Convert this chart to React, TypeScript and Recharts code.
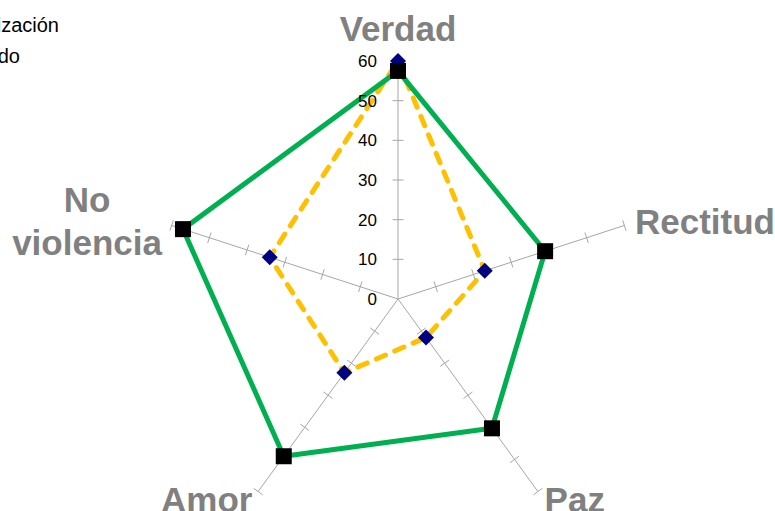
import React from 'react';
import {
  RadarChart,
  Radar,
  PolarAngleAxis,
  PolarRadiusAxis,
  Legend,
} from 'recharts';

// values
const axes = ['Verdad', 'Rectitud', 'Paz', 'Amor', 'No violencia'];
const realizacion = [60, 23, 12, 23, 34];
const esperado = [57.5, 39, 40.3, 49, 57];
const radiusTicks = [0, 10, 20, 30, 40, 50, 60];

const data = axes.map((axis, i) => ({
  axis,
  realizacion: realizacion[i],
  esperado: esperado[i],
}));

const FONT = '"Liberation Sans", Arial, sans-serif';
const SPOKE = '#a6a6a6';

// where each big label sits relative to the tick point
const labelPos: Record<string, { anchor: 'start' | 'middle' | 'end'; dx: number; dy: number }> = {
  Verdad: { anchor: 'middle', dx: 0, dy: -12 },
  Rectitud: { anchor: 'start', dx: 3, dy: 11 },
  Paz: { anchor: 'start', dx: 2, dy: 14 },
  Amor: { anchor: 'end', dx: -1, dy: 14 },
  'No violencia': { anchor: 'middle', dx: -77, dy: -11 },
};

// eslint-disable-next-line @typescript-eslint/no-explicit-any
const AngleTick = (props: any) => {
  const { x, y, payload } = props;
  const name: string = payload.value;
  const pos = labelPos[name];
  const common = {
    textAnchor: pos.anchor,
    fill: '#808080',
    fontFamily: FONT,
    fontWeight: 700,
    fontSize: 35,
  };
  if (name === 'No violencia') {
    return (
      <g>
        <text x={x + pos.dx} y={y + pos.dy} {...common}>No</text>
        <text x={x + pos.dx} y={y + pos.dy + 43} {...common}>violencia</text>
      </g>
    );
  }
  return (
    <text x={x + pos.dx} y={y + pos.dy} {...common}>
      {name}
    </text>
  );
};

// small cross tick on a spoke, optional number on the vertical one
const makeSpokeTick = (angle: number, withLabel: boolean) => {
  // eslint-disable-next-line @typescript-eslint/no-explicit-any
  const SpokeTick = (props: any) => {
    const { x, y, payload } = props;
    const rad = (angle * Math.PI) / 180;
    const px = Math.sin(rad) * 5.5;
    const py = Math.cos(rad) * 5.5;
    return (
      <g>
        {payload.value !== 0 && (
          <line x1={x - px} y1={y - py} x2={x + px} y2={y + py} stroke={SPOKE} strokeWidth={1} />
        )}
        {withLabel && (
          <text x={x - 21} y={y} dy="0.36em" textAnchor="end" fill="#000" fontFamily={FONT} fontSize={17}>
            {payload.value}
          </text>
        )}
      </g>
    );
  };
  return SpokeTick;
};

// eslint-disable-next-line @typescript-eslint/no-explicit-any
const SquareDot = (props: any) => {
  const { cx, cy } = props;
  return <rect x={cx - 8} y={cy - 8} width={16} height={16} fill="#000" />;
};

// eslint-disable-next-line @typescript-eslint/no-explicit-any
const DiamondDot = (props: any) => {
  const { cx, cy } = props;
  const s = 8;
  return (
    <polygon
      points={`${cx},${cy - s} ${cx + s},${cy} ${cx},${cy + s} ${cx - s},${cy}`}
      fill="#000080"
    />
  );
};

// legend is cut off by the left edge in the original
const legendSpot: Record<string, { right: number; top: number }> = {
  'Nivel de realización': { right: 59, top: 15 },
  'Nivel esperado': { right: 20, top: 46 },
};

// eslint-disable-next-line @typescript-eslint/no-explicit-any
const CutLegend = (props: any) => {
  const payload = (props.payload || []).filter((p: { value: string }) => legendSpot[p.value]);
  return (
    <div style={{ position: 'relative', width: 775, height: 70 }}>
      {payload.map((p: { value: string }) => (
        <div
          key={p.value}
          style={{
            position: 'absolute',
            left: legendSpot[p.value].right - 300,
            top: legendSpot[p.value].top,
            width: 300,
            textAlign: 'right',
            fontFamily: FONT,
            fontSize: 20,
            lineHeight: '20px',
            color: '#000',
            whiteSpace: 'nowrap',
          }}
        >
          {p.value}
        </div>
      ))}
    </div>
  );
};

const spokeAngles = [18, -54, -126, 162];

export default function App() {
  return (
    <div style={{ position: 'absolute', left: 0, top: 0, width: 775, height: 511, overflow: 'hidden', background: '#fff' }}>
      <RadarChart
        width={775}
        height={511}
        data={data}
        cx={398}
        cy={299}
        outerRadius={238}
        margin={{ top: 0, right: 0, bottom: 0, left: 0 }}
      >
        <PolarAngleAxis dataKey="axis" tick={<AngleTick />} axisLine={false} tickLine={false} />
        <PolarRadiusAxis
          radiusAxisId={0}
          angle={90}
          type="number"
          domain={[0, 60]}
          ticks={radiusTicks}
          axisLine={{ stroke: SPOKE, strokeWidth: 1 }}
          tick={makeSpokeTick(90, true)}
          tickLine={false}
        />
        {spokeAngles.map((a, i) => (
          <PolarRadiusAxis
            key={a}
            radiusAxisId={i + 1}
            angle={a}
            type="number"
            domain={[0, 60]}
            ticks={radiusTicks}
            axisLine={{ stroke: SPOKE, strokeWidth: 1 }}
            tick={makeSpokeTick(a, false)}
            tickLine={false}
          />
        ))}
        {/* invisible series so the extra spokes get a scale */}
        {spokeAngles.map((a, i) => (
          <Radar
            key={`ghost-${a}`}
            radiusAxisId={i + 1}
            dataKey="esperado"
            stroke="none"
            fill="none"
            fillOpacity={0}
            dot={false}
            activeDot={false}
            legendType="none"
            isAnimationActive={false}
          />
        ))}
        <Radar
          name="Nivel de realización"
          dataKey="realizacion"
          stroke="#FFC000"
          strokeWidth={5}
          strokeDasharray="10 10"
          strokeLinecap="round"
          fill="none"
          fillOpacity={0}
          dot={<DiamondDot />}
          isAnimationActive={false}
        />
        <Radar
          name="Nivel esperado"
          dataKey="esperado"
          stroke="#00B050"
          strokeWidth={5}
          fill="none"
          fillOpacity={0}
          dot={<SquareDot />}
          isAnimationActive={false}
        />
        <Legend
          content={<CutLegend />}
          wrapperStyle={{ position: 'absolute', left: 0, top: 0, width: 775, height: 70 }}
        />
      </RadarChart>
    </div>
  );
}
